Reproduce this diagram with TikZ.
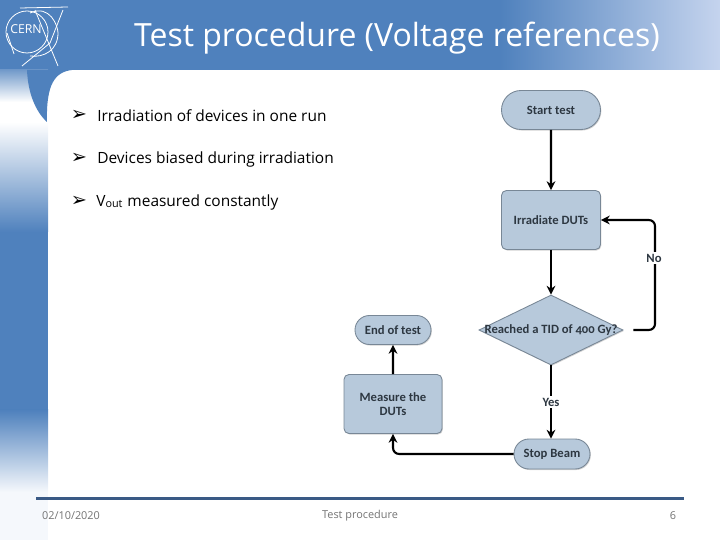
\documentclass[tikz,border=0pt]{standalone}
\usepackage{fontspec}
\usepackage{xcolor}
\usetikzlibrary{positioning,arrows.meta,shapes.geometric,shapes.misc,shadows}
\setmainfont{Open Sans}
\newfontfamily\flowfont[Numbers=OldStyle]{Carlito}
\newfontfamily\bulletfont{DejaVu Sans}
\definecolor{cernblue}{RGB}{79,129,189}
\definecolor{cernpale}{RGB}{197,212,238}
\definecolor{sidewhite}{RGB}{245,248,252}
\definecolor{footline}{RGB}{58,90,133}
\definecolor{boxfill}{RGB}{183,201,219}
\definecolor{boxedge}{RGB}{120,135,150}
\definecolor{flowtext}{RGB}{45,55,65}
\tikzset{
  flowbox/.style={draw=boxedge,fill=boxfill,line width=0.5pt,align=center,
    font=\flowfont\bfseries\fontsize{7.2}{8.4}\selectfont,text=flowtext,
    drop shadow={shadow xshift=0.5pt,shadow yshift=-0.6pt,opacity=0.35}},
  termbox/.style={flowbox,rounded rectangle,inner sep=0pt},
  procbox/.style={flowbox,rectangle,rounded corners=2.8pt,inner sep=0pt},
  decbox/.style={flowbox,diamond,inner sep=0pt,aspect=2.05},
  flowline/.style={line width=1.2pt,-{Stealth[length=5pt,width=5pt]}},
  flowlabel/.style={fill=white,inner sep=1pt,text=flowtext,
    font=\flowfont\bfseries\fontsize{7.2}{8.4}\selectfont},
  bullettext/.style={anchor=west,inner sep=0pt,font=\fontsize{8.8}{10}\selectfont},
  bulletmark/.style={anchor=center,inner sep=0pt,font=\bulletfont\bfseries\fontsize{11}{12}\selectfont},
  footertext/.style={inner sep=0pt,text=black!55,font=\fontsize{6.2}{8}\selectfont},
  logoline/.style={draw=white,line width=0.45pt}
}
\begin{document}
\begin{tikzpicture}[x=0.02cm,y=-0.02cm]
  \def\px{0.02cm}
  \useasboundingbox (0,0) rectangle (720,540);
  % banner
  \fill[cernblue] (0,0) rectangle (500,70);
  \shade[left color=cernblue,right color=cernpale] (500,0) rectangle (720,70);
  % side bar, top to bottom
  \shade[top color=cernblue!80!white,bottom color=white] (0,70) rectangle (48,102);
  \fill[white] (0,102) rectangle (48,122);
  \shade[top color=white,bottom color=cernblue] (0,122) rectangle (48,232);
  \fill[cernblue] (0,232) rectangle (48,410);
  \shade[top color=cernblue,bottom color=sidewhite] (0,410) rectangle (48,492);
  \fill[sidewhite] (0,492) rectangle (48,540);
  % corner of the banner
  \fill[cernblue] (27,70) -- (72,70) .. controls (55,72) and (46,84) .. (47,122) .. controls (36,112) and (28,94) .. (27,70) -- cycle;
  % logo
  \draw[logoline] (27,32) circle (21);
  \draw[logoline] (30,13) .. controls (50,4) and (58,26) .. (58,33) .. controls (58,50) and (44,58) .. (30,56);
  \draw[logoline] (20,8) -- (68,7);
  \draw[logoline] (35,10) -- (58,66);
  \draw[logoline] (63,10) -- (50,43);
  \draw[logoline] (22,66) -- (50,43);
  \draw[logoline] (7,33) -- (14,54);
  \node[inner sep=0pt,text=white,font=\fontsize{7}{9}\selectfont] (logotext) at (26,29) {CERN};
  % title
  \node[inner sep=0pt,text=white,font=\fontsize{18.2}{22}\selectfont] (title) at (397,38) {Test procedure (Voltage references)};
  % bullets
  \node[bulletmark] (markone) at (79,115) {➢};
  \node[bulletmark] (marktwo) at (79,158) {➢};
  \node[bulletmark] (markthree) at (79,201) {➢};
  \node[bullettext] (textone) at (97,116) {Irradiation of devices in one run};
  \node[bullettext] (texttwo) at (97,159) {Devices biased during irradiation};
  \node[bullettext] (textthree) at (96,202) {V\textsubscript{out} measured constantly};
  % flow chart
  \node[termbox,minimum width=99*\px,minimum height=39*\px] (start) at (551,110) {Start test};
  \node[procbox,minimum width=99*\px,minimum height=59*\px] (irradiate) at (551,220) {Irradiate DUTs};
  \node[decbox,minimum width=144*\px,minimum height=70*\px] (reached) at (551,330) {\makebox[0pt][c]{Reached a TID of 400 Gy?}};
  \node[termbox,minimum width=76*\px,minimum height=29*\px] (endtest) at (393,330) {End of test};
  \node[procbox,minimum width=98*\px,minimum height=59*\px] (measure) at (393,404) {Measure the\\DUTs};
  \node[termbox,minimum width=76*\px,minimum height=30*\px] (stopbeam) at (552,454) {Stop Beam};
  \coordinate (noturn) at (655,330);
  \draw[flowline] (start) -- (irradiate);
  \draw[flowline] (irradiate) -- (reached);
  \draw[flowline,rounded corners=3.5pt,shorten <=10*\px] (reached.east) -- (noturn) -- (noturn |- irradiate.east) -- (irradiate.east);
  \draw[flowline] (reached.south) -- (reached.south |- stopbeam.north);
  \draw[flowline,rounded corners=3.5pt] (stopbeam.west) -- (measure.south |- stopbeam.west) -- (measure.south);
  \draw[flowline] (measure) -- (endtest);
  \node[flowlabel] (nolabel) at (654,258) {No};
  \node[flowlabel] (yeslabel) at (551,402) {Yes};
  % footer
  \coordinate (footleft) at (36,498.5);
  \coordinate (footright) at (684,498.5);
  \draw[footline,line width=1.7pt] (footleft) -- (footright);
  \node[footertext] (datetext) at (71,516) {02/10/2020};
  \node[footertext] (foottext) at (360,516) {Test procedure};
  \node[footertext] (pagetext) at (673,516) {6};
\end{tikzpicture}
\end{document}
